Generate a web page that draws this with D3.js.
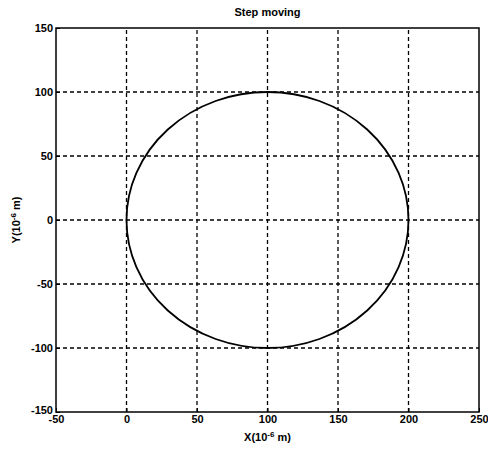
<!DOCTYPE html>
<html>
<head>
<meta charset="utf-8">
<script src="https://cdn.jsdelivr.net/npm/d3@7"></script>
<style>
  html, body { margin: 0; padding: 0; background: #fff; }
  svg { display: block; }
  text { font-family: "Liberation Sans", Arial, sans-serif; font-weight: bold; fill: #000; }
</style>
</head>
<body>
<svg id="chart" width="488" height="450"></svg>
<script>
// Axis ranges and tick labels
const xDomain = [-50, 250];
const yDomain = [-150, 150];
const xTicks = [-50, 0, 50, 100, 150, 200, 250];
const yTicks = [-150, -100, -50, 0, 50, 100, 150];

// Trajectory traced by the stepping stage: a circle (10^-6 m)
const circleCenter = [100, 0];
const circleRadius = 100;

const titleText = "Step moving";

const margin = { left: 56, top: 28, right: 9, bottom: 38 };
const W = 488, H = 450;
const svg = d3.select("#chart");

const x = d3.scaleLinear().domain(xDomain).range([margin.left, W - margin.right]);
const y = d3.scaleLinear().domain(yDomain).range([H - margin.bottom, margin.top]);
const fmt = d => String(d);

// Dashed grid
const grid = svg.append("g").attr("stroke", "#000").attr("stroke-width", 1.3)
  .attr("stroke-dasharray", "4,3");
xTicks.slice(1, -1).forEach(t => {
  grid.append("line").attr("x1", x(t)).attr("x2", x(t))
    .attr("y1", y(yDomain[0])).attr("y2", y(yDomain[1]));
});
yTicks.slice(1, -1).forEach(t => {
  grid.append("line").attr("y1", y(t)).attr("y2", y(t))
    .attr("x1", x(xDomain[0])).attr("x2", x(xDomain[1]));
});

// Trajectory
svg.append("ellipse")
  .attr("cx", x(circleCenter[0]))
  .attr("cy", y(circleCenter[1]))
  .attr("rx", x(circleCenter[0] + circleRadius) - x(circleCenter[0]))
  .attr("ry", y(circleCenter[1]) - y(circleCenter[1] + circleRadius))
  .attr("fill", "none").attr("stroke", "#000").attr("stroke-width", 1.8);

// Axes (ticks point inward)
const xAxis = svg.append("g").attr("transform", `translate(0,${y(yDomain[0])})`)
  .call(d3.axisBottom(x).tickValues(xTicks).tickSize(-4).tickPadding(4).tickFormat(fmt));
const yAxis = svg.append("g").attr("transform", `translate(${x(xDomain[0])},0)`)
  .call(d3.axisLeft(y).tickValues(yTicks).tickSize(-4).tickPadding(3).tickFormat(fmt));
[xAxis, yAxis].forEach(a => {
  a.select(".domain").remove();
  a.selectAll("text").attr("font-size", 11).attr("font-family", "Liberation Sans, Arial, sans-serif")
    .attr("font-weight", "bold").attr("fill", "#000");
  a.selectAll("line").attr("stroke", "#000");
});
xAxis.selectAll("text").attr("dy", "0.6em");
// lowest y label sits slightly above the corner, as the x labels sit below it
yAxis.selectAll("text").filter(d => d === yDomain[0]).attr("dy", "0.1em");

// Frame
svg.append("rect")
  .attr("x", x(xDomain[0])).attr("y", y(yDomain[1]))
  .attr("width", x(xDomain[1]) - x(xDomain[0]))
  .attr("height", y(yDomain[0]) - y(yDomain[1]))
  .attr("fill", "none").attr("stroke", "#000").attr("stroke-width", 1.5);

// Title
svg.append("text").attr("x", (x(xDomain[0]) + x(xDomain[1])) / 2).attr("y", 16)
  .attr("text-anchor", "middle").attr("font-size", 11).text(titleText);

// Axis labels with superscript exponent
const xl = svg.append("text").attr("x", (x(xDomain[0]) + x(xDomain[1])) / 2).attr("y", 441)
  .attr("text-anchor", "middle").attr("font-size", 11);
xl.append("tspan").text("X(10");
xl.append("tspan").attr("dy", -4).attr("font-size", 8).text("-6");
xl.append("tspan").attr("dy", 4).text(" m)");

const yl = svg.append("text")
  .attr("transform", `translate(20,${(y(yDomain[0]) + y(yDomain[1])) / 2}) rotate(-90)`)
  .attr("text-anchor", "middle").attr("font-size", 11);
yl.append("tspan").text("Y(10");
yl.append("tspan").attr("dy", -4).attr("font-size", 8).text("-6");
yl.append("tspan").attr("dy", 4).text(" m)");
</script>
</body>
</html>
